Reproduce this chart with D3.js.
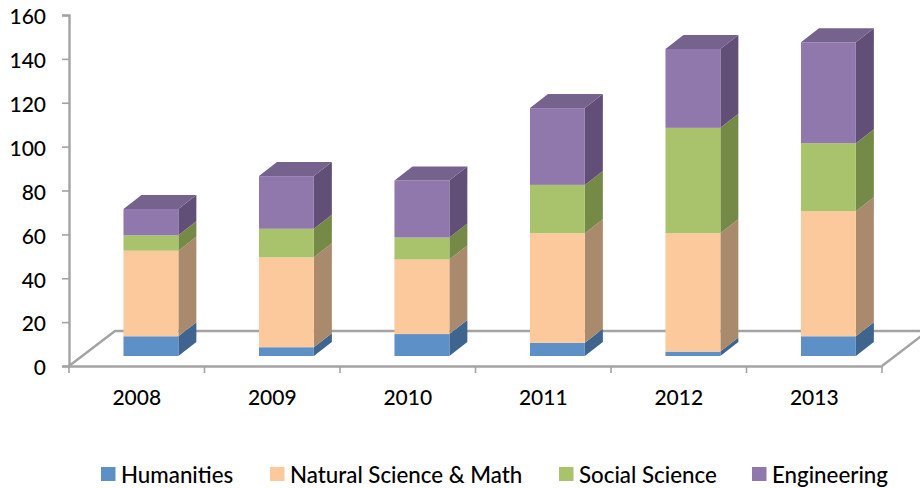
<!DOCTYPE html>
<html><head><meta charset="utf-8">
<script src="https://cdn.jsdelivr.net/npm/d3@7"></script>
<style>html,body{margin:0;padding:0;background:#fff}svg{display:block}text{font-family:Lato,"Open Sans",sans-serif;fill:#000;font-weight:500}</style>
</head><body><div id="chart"></div>
<script>
const years = ["2008","2009","2010","2011","2012","2013"];
const seriesNames = ["Humanities","Natural Science & Math","Social Science","Engineering"];
const humanities = [9,4,10,6,2,9];
const naturalScience = [39,41,34,50,54,57];
const socialScience = [7,13,10,22,48,31];
const engineering = [12,24,26,35,36,46];
const frontColors = ["#5e90c8","#fcc99c","#a9c26c","#9078ad"];
const sideColors = ["#3f648e","#aa8a6c","#768a48","#624f78"];
const topColor = "#75628d";
const legendX = [101,270,559,752];
const allValues = [humanities,naturalScience,socialScience,engineering];

const W=920,H=488;
const svg=d3.select("#chart").append("svg").attr("width",W).attr("height",H);
const y=d3.scaleLinear().domain([0,160]).range([366,15]);
const x=d3.scaleBand().domain(years).range([69,882]);
const grey="#a3a3a3";
const depthX=18,depthY=14,lift=10;
const floorDX=46,floorDY=35;

// floor
const floor=svg.append("g").attr("fill","none").attr("stroke",grey).attr("stroke-width",2.4);
floor.append("path").attr("d",`M${x.range()[0]},${y(0)}L${x.range()[0]+floorDX},${y(0)-floorDY}L${W},${y(0)-floorDY}`);
floor.append("path").attr("d",`M${x.range()[1]},${y(0)}L${x.range()[1]+floorDX},${y(0)-floorDY}`);

// axes
const yAxis=d3.axisLeft(y).tickValues(d3.range(0,161,20)).tickSize(7).tickPadding(16);
const gy=svg.append("g").attr("transform","translate(69,0)").call(yAxis);
const xTicks=d3.axisBottom(x).tickValues([]).tickSize(0);
const gx=svg.append("g").attr("transform",`translate(0,${y(0)})`).call(xTicks);
gx.select(".domain").attr("stroke",grey).attr("stroke-width",2.4);
gx.selectAll(".edge").data([...years.map(d=>x(d)),x.range()[1]]).enter().append("line").attr("class","edge")
  .attr("x1",d=>d).attr("x2",d=>d).attr("y1",0).attr("y2",7).attr("stroke",grey).attr("stroke-width",1.6);
gx.selectAll("text.yr").data(years).enter().append("text").attr("class","yr")
  .attr("x",d=>x(d)+x.bandwidth()/2).attr("y",39).attr("text-anchor","middle").attr("font-size",21).text(d=>d);
gy.select(".domain").attr("stroke",grey).attr("stroke-width",2.4);
gy.selectAll(".tick line").attr("stroke",grey).attr("stroke-width",1.6);
gy.selectAll(".tick text").attr("font-size",21).attr("dy","0.42em").style("fill","#000");

// bars
const barW=x.bandwidth()*0.405, barOff=x.bandwidth()*0.402;
years.forEach((yr,i)=>{
  const g=svg.append("g");
  const bx=x(yr)+barOff;
  let cum=0;
  allValues.forEach((vals,s)=>{
    const y0=y(cum)-lift, y1=y(cum+vals[i])-lift;
    cum+=vals[i];
    g.append("path").attr("fill",sideColors[s])
      .attr("d",`M${bx+barW},${y1}L${bx+barW+depthX},${y1-depthY}L${bx+barW+depthX},${y0-depthY}L${bx+barW},${y0}Z`);
    g.append("rect").attr("x",bx).attr("y",y1).attr("width",barW).attr("height",y0-y1).attr("fill",frontColors[s]);
    if(s===allValues.length-1){
      g.append("path").attr("fill",topColor)
        .attr("d",`M${bx},${y1}L${bx+depthX},${y1-depthY}L${bx+barW+depthX},${y1-depthY}L${bx+barW},${y1}Z`);
    }
  });
});

// legend
const lg=svg.append("g");
seriesNames.forEach((n,i)=>{
  lg.append("rect").attr("x",legendX[i]).attr("y",467).attr("width",14.5).attr("height",14).attr("fill",frontColors[i]);
  lg.append("text").attr("x",legendX[i]+20).attr("y",483).attr("font-size",22.3).text(n);
});
</script></body></html>
